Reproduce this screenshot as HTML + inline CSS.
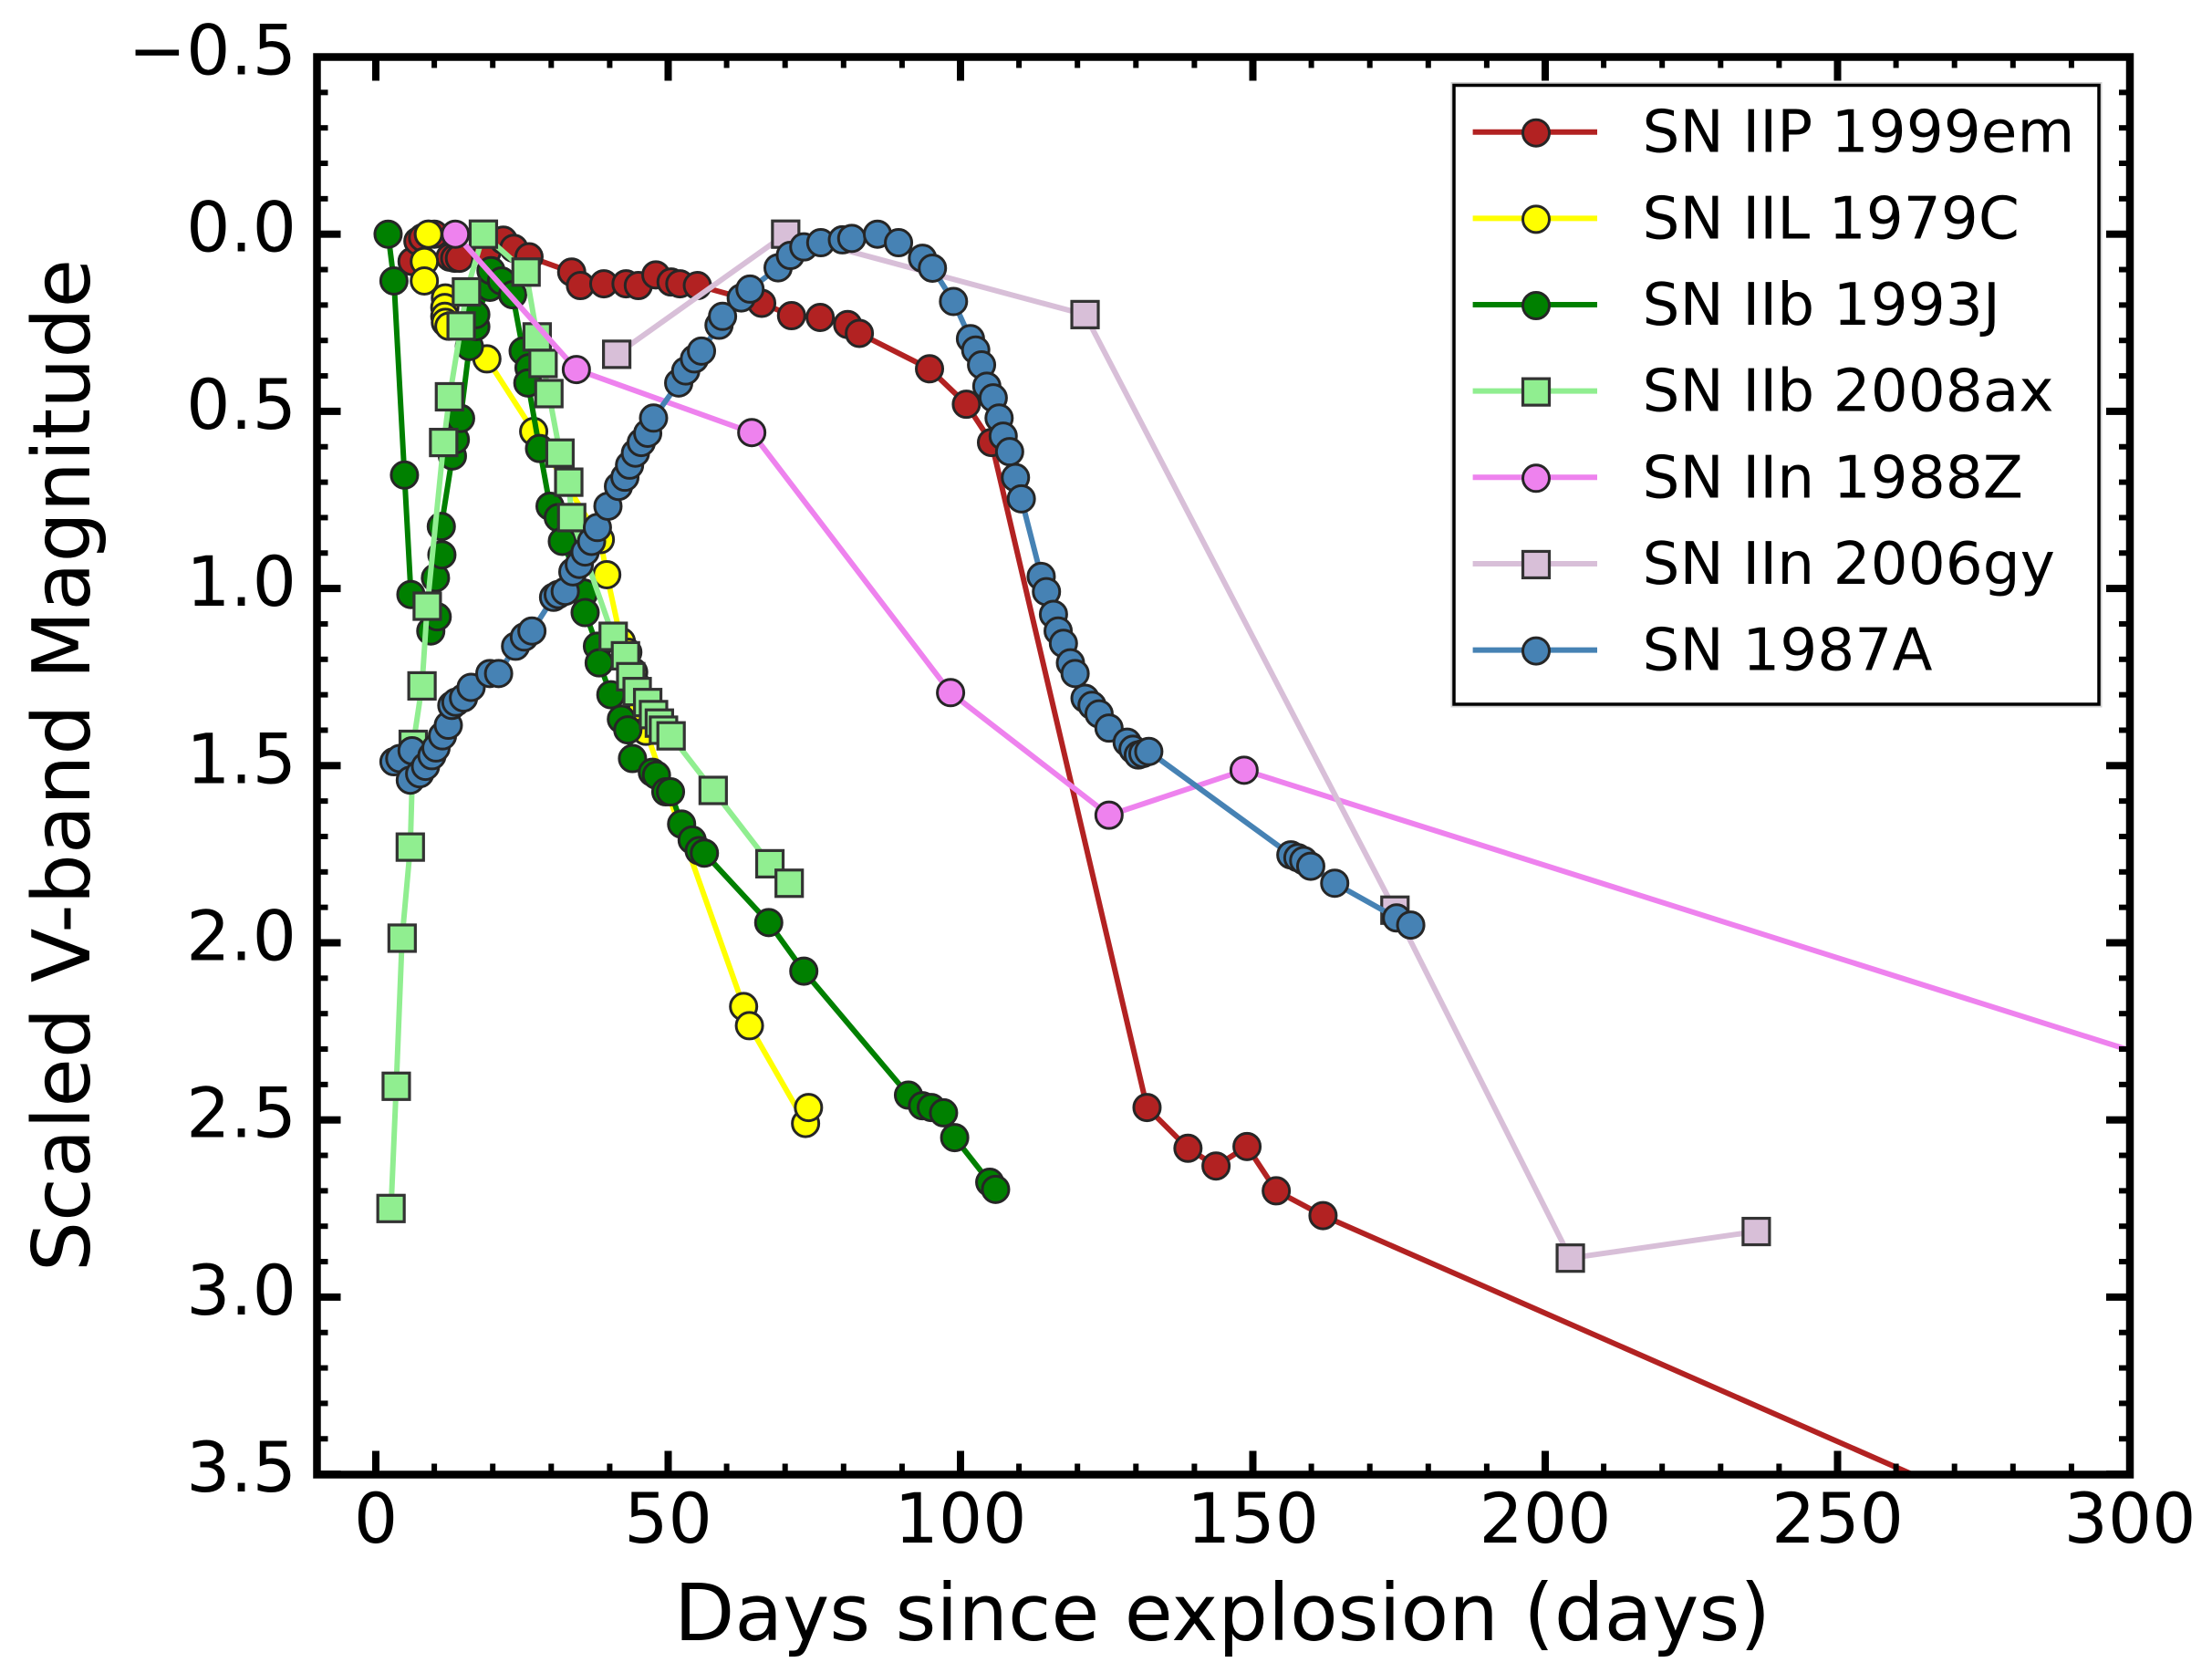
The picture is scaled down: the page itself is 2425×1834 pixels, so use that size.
<!DOCTYPE html>
<html lang="en">
<head>
<meta charset="utf-8">
<title>Scaled V-band light curves</title>
<style>
html,body{margin:0;padding:0;background:#fff;}
svg{display:block;}
text{font-family:"DejaVu Sans","Liberation Sans",sans-serif;fill:#000;}
</style>
</head>
<body>
<svg id="chart" xmlns="http://www.w3.org/2000/svg" width="2425" height="1834" viewBox="0 0 2425 1834">
  <rect x="0" y="0" width="2425" height="1834" fill="#fff"/>
  <defs><clipPath id="plot-clip"><rect x="347.5" y="62.5" width="1987.5" height="1554"/></clipPath></defs>
  <g id="series-layer" clip-path="url(#plot-clip)"></g>
  <g id="tick-layer"></g>
  <rect x="347.5" y="62.5" width="1987.5" height="1554" fill="none" stroke="#000" stroke-width="8.5"/>
  <g id="label-layer" font-size="76"></g>
  <text x="1340" y="1798" font-size="86.2" text-anchor="middle">Days since explosion (days)</text>
  <text x="0" y="0" font-size="87" text-anchor="middle" transform="translate(98 839) rotate(-90)">Scaled V-band Magnitude</text>
  <g id="legend">
    <rect x="1594" y="93.5" width="707" height="678.5" fill="none" stroke="#d0d0d0" stroke-width="7"/>
    <rect x="1594" y="93.5" width="707" height="678.5" fill="#fff" stroke="#000" stroke-width="3.5"/>
  </g>
</svg>
<script>
// ---- data (days since explosion, scaled V magnitude) ----
const days1999em = [6.2,7.2,8,9,10,12.7,13.5,14.3,19,21.8,23.6,26.2,33.5,35,39,42.8,44.9,47.9,50.5,52,55,66,71.1,76,80.7,82.7,94.7,101,105.3,131.9,138.9,143.7,149,154,162,300];
const mags1999em = [0.077,0.02,0.01,0,0,0.065,0.068,0.068,0.05,0.017,0.04,0.064,0.107,0.145,0.14,0.14,0.145,0.115,0.135,0.14,0.145,0.195,0.23,0.235,0.255,0.28,0.38,0.48,0.588,2.465,2.58,2.63,2.575,2.70,2.77,3.77];

const days1979C = [9,8.3,8.3,11.9,11.8,11.8,11.9,12.5,19,27,38.4,39.5,42,43.1,44.1,44.7,45.5,46.2,62.9,63.9,73.5,74];
const mags1979C = [0,0.077,0.132,0.18,0.207,0.232,0.249,0.26,0.352,0.557,0.862,0.961,1.15,1.18,1.236,1.275,1.34,1.403,2.18,2.234,2.51,2.465];

const days1993J = [2.1,3.1,4.9,6,9.4,10.5,10.2,11.3,11.2,13.1,13.6,14.5,16,17.1,17.1,19.5,19.7,21.5,23.4,25.2,26.2,26,28,29.8,31.2,31.9,35.6,35.8,37.9,38.2,40.2,42,43.1,43.9,47.3,48,49.6,50.4,52.3,54.1,55.3,56.2,67.2,73.2,91.1,93.5,95,97.1,99,105,106];
const mags1993J = [0,0.132,0.68,1.017,1.12,1.08,0.97,0.905,0.825,0.626,0.58,0.52,0.317,0.261,0.227,0.15,0.103,0.132,0.171,0.33,0.377,0.42,0.605,0.768,0.8,0.867,1.013,1.068,1.163,1.21,1.3,1.369,1.399,1.48,1.519,1.527,1.574,1.574,1.665,1.71,1.74,1.747,1.943,2.08,2.43,2.46,2.465,2.48,2.55,2.676,2.696];

const days2008ax = [2.6,3.5,4.5,5.9,6.4,7.9,8.8,11.6,12.6,14.6,15.5,18.4,25.7,27.6,28.6,29.6,31.5,33,33.5,40.6,42.7,43.6,44.7,46.5,47.5,48.5,49.2,50.5,57.7,67.4,70.7];
const mags2008ax = [2.75,2.405,1.987,1.73,1.44,1.275,1.05,0.588,0.459,0.259,0.163,0,0.107,0.29,0.365,0.45,0.618,0.70,0.80,1.135,1.19,1.249,1.291,1.322,1.356,1.38,1.4,1.416,1.57,1.777,1.832];

const days1988Z = [13.6,34.3,64.3,98.3,125.4,148.5,330];
const mags1988Z = [0,0.382,0.56,1.294,1.64,1.513,2.46];

const days2006gy = [41.2,70.1,121.3,174.3,204.3,236.1];
const mags2006gy = [0.339,0,0.227,1.908,2.89,2.815];

const days1987A = [3.1,4.1,5.9,6.2,7.5,8.5,9.6,10.3,11.4,12.4,13,13.7,15,16.3,19.5,21,23.9,25.4,26.7,30.4,31.2,32.4,33.7,34.8,35.8,36.9,37.9,39.7,41.5,42.6,43.4,44.4,45.4,46.5,47.5,51.8,53,54.5,55.7,58.7,59.3,62.5,64,68.8,70.9,73.2,76.1,79.8,81.4,85.8,89.4,93.5,95.2,98.8,101.7,102.6,103.6,104.5,105.6,106.6,107.3,108.4,109.4,110.4,113.8,114.7,115.9,116.7,117.6,118.8,119.6,121.3,122.5,123.7,125.4,128.5,129.5,130.4,131.2,132.2,156.5,157.7,158.7,159.9,164,174.6,177];
const mags1987A = [1.489,1.48,1.541,1.458,1.523,1.502,1.472,1.45,1.416,1.386,1.33,1.321,1.309,1.279,1.24,1.24,1.163,1.137,1.12,1.025,1.017,1.008,0.953,0.932,0.897,0.867,0.828,0.768,0.712,0.686,0.652,0.618,0.588,0.562,0.519,0.42,0.386,0.352,0.33,0.257,0.232,0.18,0.155,0.095,0.06,0.036,0.024,0.016,0.012,0,0.024,0.068,0.096,0.19,0.295,0.327,0.369,0.429,0.462,0.519,0.57,0.614,0.687,0.747,0.966,1.009,1.073,1.12,1.155,1.21,1.24,1.31,1.33,1.354,1.394,1.434,1.454,1.47,1.466,1.46,1.752,1.76,1.768,1.784,1.832,1.93,1.95];

const seriesNames = ["SN IIP 1999em","SN IIL 1979C","SN IIb 1993J","SN IIb 2008ax","SN IIn 1988Z","SN IIn 2006gy","SN 1987A"];
const seriesKeys = ["sn-1999em","sn-1979c","sn-1993j","sn-2008ax","sn-1988z","sn-2006gy","sn-1987a"];
const seriesDays = [days1999em,days1979C,days1993J,days2008ax,days1988Z,days2006gy,days1987A];
const seriesMags = [mags1999em,mags1979C,mags1993J,mags2008ax,mags1988Z,mags2006gy,mags1987A];
const seriesColors = ["#b22222","#ffff00","#008000","#90ee90","#ee82ee","#d8bfd8","#4682b4"];
const seriesMarkers = ["circle","circle","circle","square","circle","square","circle"];

const xMajorTicks = [0,50,100,150,200,250,300];
const xMinorTicks = [-10,10,20,30,40,60,70,80,90,110,120,130,140,160,170,180,190,210,220,230,240,260,270,280,290];
const yMajorTicks = [-0.5,0,0.5,1,1.5,2,2.5,3,3.5];
const yTickLabels = ["\u22120.5","0.0","0.5","1.0","1.5","2.0","2.5","3.0","3.5"];
const yMinorStepTicks = [-0.4,-0.3,-0.2,-0.1,0.1,0.2,0.3,0.4,0.6,0.7,0.8,0.9,1.1,1.2,1.3,1.4,1.6,1.7,1.8,1.9,2.1,2.2,2.3,2.4,2.6,2.7,2.8,2.9,3.1,3.2,3.3,3.4];

// ---- axis functions ----
function xScale(d){ return 412 + 6.41 * d; }
function yScale(m){ return 256.7 + 388.4 * m; }

const NS = "http://www.w3.org/2000/svg";
function make(tag, attrs, parent){
  const e = document.createElementNS(NS, tag);
  for (const k in attrs) e.setAttribute(k, attrs[k]);
  parent.appendChild(e);
  return e;
}
function drawMarker(kind, cx, cy, color, parent){
  if (kind === "circle") {
    return make("circle", {cx:cx, cy:cy, r:14.5, fill:color, stroke:"#262626", "stroke-width":3}, parent);
  }
  return make("rect", {x:cx-14.5, y:cy-14.5, width:29, height:29, fill:color, stroke:"#333", "stroke-width":3.2}, parent);
}

// ---- ticks ----
const tickLayer = document.getElementById("tick-layer");
const labelLayer = document.getElementById("label-layer");
const L = 347.5, R = 2335, T = 62.5, B = 1616.5;

xMajorTicks.forEach(function(v){
  const x = xScale(v);
  const a = make("rect", {x:x-4, y:T, width:8, height:26, fill:"#000"}, tickLayer);
  
  
  const b = make("rect", {x:x-4, y:B-26, width:8, height:26, fill:"#000"}, tickLayer);
  
  
  const t = make("text", {x:x, y:1691, "text-anchor":"middle"}, labelLayer);
  t.textContent = String(v);
  
  
});
xMinorTicks.forEach(function(v){
  const x = xScale(v);
  const a = make("rect", {x:x-3, y:T, width:6, height:12, fill:"#000"}, tickLayer);
  
  
  const b = make("rect", {x:x-3, y:B-12, width:6, height:12, fill:"#000"}, tickLayer);
  
  
});
yMajorTicks.forEach(function(v, i){
  const y = yScale(v);
  const a = make("rect", {x:L, y:y-4, width:26, height:8, fill:"#000"}, tickLayer);
  
  
  const b = make("rect", {x:R-26, y:y-4, width:26, height:8, fill:"#000"}, tickLayer);
  
  
  const t = make("text", {x:325, y:y+19, "text-anchor":"end"}, labelLayer);
  t.textContent = yTickLabels[i];
  
  
});
yMinorStepTicks.forEach(function(v){
  const y = yScale(v);
  const a = make("rect", {x:L, y:y-3, width:12, height:6, fill:"#000"}, tickLayer);
  
  
  const b = make("rect", {x:R-12, y:y-3, width:12, height:6, fill:"#000"}, tickLayer);
  
  
});

// ---- series ----
const seriesLayer = document.getElementById("series-layer");
seriesNames.forEach(function(name, s){
  const g = make("g", {}, seriesLayer);
  
  
  const pts = seriesDays[s].map(function(d, i){ return xScale(d).toFixed(1) + "," + yScale(seriesMags[s][i]).toFixed(1); }).join(" ");
  const line = make("polyline", {points:pts, fill:"none", stroke:seriesColors[s], "stroke-width":6, "stroke-linejoin":"round"}, g);
  
  
  seriesDays[s].forEach(function(d, i){
    const m = drawMarker(seriesMarkers[s], xScale(d), yScale(seriesMags[s][i]), seriesColors[s], g);
    
    
  });
});

// ---- legend ----
const legend = document.getElementById("legend");
seriesNames.forEach(function(name, s){
  const rowY = 144.7 + 94.65 * s;
  const g = make("g", {}, legend);
  
  
  const h = make("line", {x1:1614.6, x2:1751, y1:rowY, y2:rowY, stroke:seriesColors[s], "stroke-width":6}, g);
  
  
  const m = drawMarker(seriesMarkers[s], 1684, rowY + 1, seriesColors[s], g);
  
  
  const t = make("text", {x:1800.5, y:rowY + 22, "font-size":64.5}, g);
  t.textContent = name;
  
  
});
</script>
</body>
</html>
